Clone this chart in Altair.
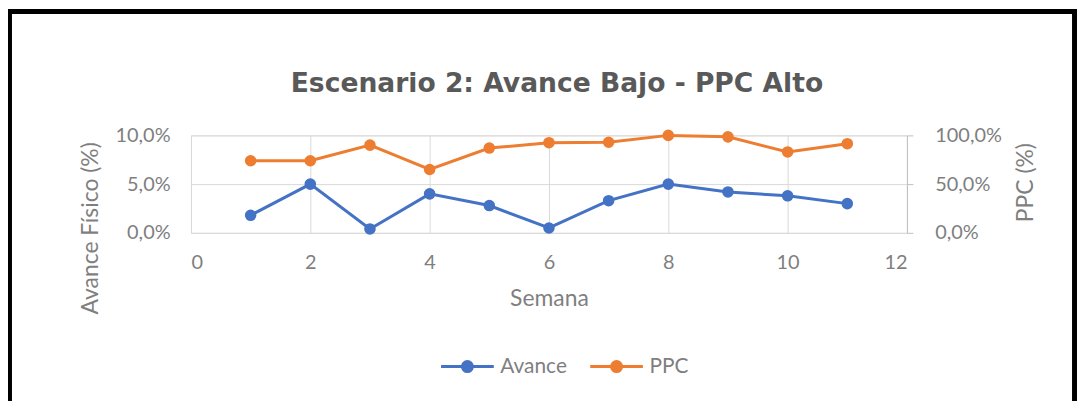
import altair as alt
import pandas as pd

# ---- data ----
semanas = [1, 2, 3, 4, 5, 6, 7, 8, 9, 10, 11]
avance = [1.8, 5.0, 0.4, 4.0, 2.8, 0.5, 3.3, 5.0, 4.2, 3.8, 3.0]       # % (left axis)
ppc = [74.0, 74.0, 90.0, 65.0, 87.0, 92.5, 93.0, 100.0, 98.5, 83.0, 91.5]  # % (right axis)
series = ["Avance", "PPC"]
colores = ["#4472C4", "#ED7D31"]
x_ticks = [0, 2, 4, 6, 8, 10, 12]
av_ticks = [0, 5, 10]
ppc_ticks = [0, 50, 100]
titulo = "Escenario 2: Avance Bajo - PPC Alto"

df_av = pd.DataFrame({"Semana": semanas, "valor": avance, "serie": series[0]})
df_ppc = pd.DataFrame({"Semana": semanas, "valor": ppc, "serie": series[1]})

FONT = "Lato"
TITLE_FONT = "DejaVu Sans"
LABEL = "#7f7f7f"
GRID = "#d9d9d9"
lab_expr = "replace(format(datum.value, '.1f'), '.', ',') + '%'"


def ring(r):
    return (f"M-{r},0A{r},{r},0,1,1,{r},0A{r},{r},0,1,1,-{r},0Z ")


# legend symbol: a short line with a (stroke-filled) circle in the middle
sym_path = "M-1,0L1,0 " + ring(0.06) + ring(0.13) + ring(0.19)

x_enc = alt.X(
    "Semana:Q",
    scale=alt.Scale(domain=[0, 12], nice=False),
    axis=alt.Axis(values=x_ticks, title="Semana", grid=True, gridColor=GRID,
                  domain=False, ticks=False, tickSize=0, labelPadding=20,
                  labelFont=FONT, labelFontSize=20, labelColor=LABEL,
                  titleFont=FONT, titleFontSize=23, titleFontWeight="normal",
                  titleColor=LABEL, titlePadding=15),
)

color_leg = alt.Color(
    "serie:N",
    scale=alt.Scale(domain=series, range=colores),
    legend=alt.Legend(orient="none", legendX=250, legendY=204,
                      direction="horizontal", title=None,
                      symbolType=sym_path, symbolSize=2809,
                      symbolStrokeWidth=3, symbolOpacity=1,
                      labelFont=FONT, labelFontSize=21,
                      labelColor=LABEL, columnPadding=16, labelOffset=5),
)

y_av = alt.Y(
    "valor:Q",
    scale=alt.Scale(domain=[0, 10], nice=False),
    axis=alt.Axis(orient="left", values=av_ticks, labelExpr=lab_expr,
                  title="Avance Físico (%)", grid=True, gridColor=GRID,
                  domain=False, ticks=False, tickSize=0, labelPadding=21,
                  labelFont=FONT, labelFontSize=20, labelColor=LABEL,
                  titleFont=FONT, titleFontSize=23, titleFontWeight="normal",
                  titleColor=LABEL, titleAngle=270, titleBaseline="middle",
                  titleX=-101, titleY=93),
)
y_ppc = alt.Y(
    "valor:Q",
    scale=alt.Scale(domain=[0, 100], nice=False),
    axis=alt.Axis(orient="right", values=ppc_ticks, labelExpr=lab_expr,
                  title="PPC (%)", grid=False, domain=True, domainColor="#bfbfbf",
                  ticks=True, tickColor="#bfbfbf", tickSize=6, labelPadding=22,
                  labelFont=FONT, labelFontSize=20, labelColor=LABEL,
                  titleFont=FONT, titleFontSize=23, titleFontWeight="normal",
                  titleColor=LABEL, titleAngle=270, titleBaseline="middle",
                  titleX=119, titleY=47),
)

point_def = alt.OverlayMarkDef(filled=True, size=135, opacity=1)

av_chart = alt.Chart(df_av).mark_line(strokeWidth=3, point=point_def).encode(
    x=x_enc, y=y_av, color=color_leg)
ppc_chart = alt.Chart(df_ppc).mark_line(strokeWidth=3, point=point_def).encode(
    x=x_enc, y=y_ppc, color=color_leg)

frame_df = pd.DataFrame({"k": [0]})


def frame(x1, x2, y1, y2):
    return alt.Chart(frame_df).mark_rect(color="black").encode(
        x=alt.value(x1), x2=alt.value(x2), y=alt.value(y1), y2=alt.value(y2))


chart = alt.layer(
    av_chart, ppc_chart,
    frame(-184, -180, -127, 267),
    frame(-184, 891, -127, -122),
    frame(886, 891, -127, 267),
).resolve_scale(y="independent").properties(
    width=720,
    height=98,
    autosize=alt.AutoSizeParams(type="none"),
    padding={"left": 184, "top": 127, "right": 171, "bottom": 169},
    title=alt.TitleParams(titulo, font=TITLE_FONT, fontSize=26.7, fontWeight="bold",
                          color="#595959", anchor="middle", offset=0, dy=89, dx=8),
).configure_view(stroke=None).configure(background="white")

chart.save("out.html", embed_options={"renderer": "svg", "actions": False})
